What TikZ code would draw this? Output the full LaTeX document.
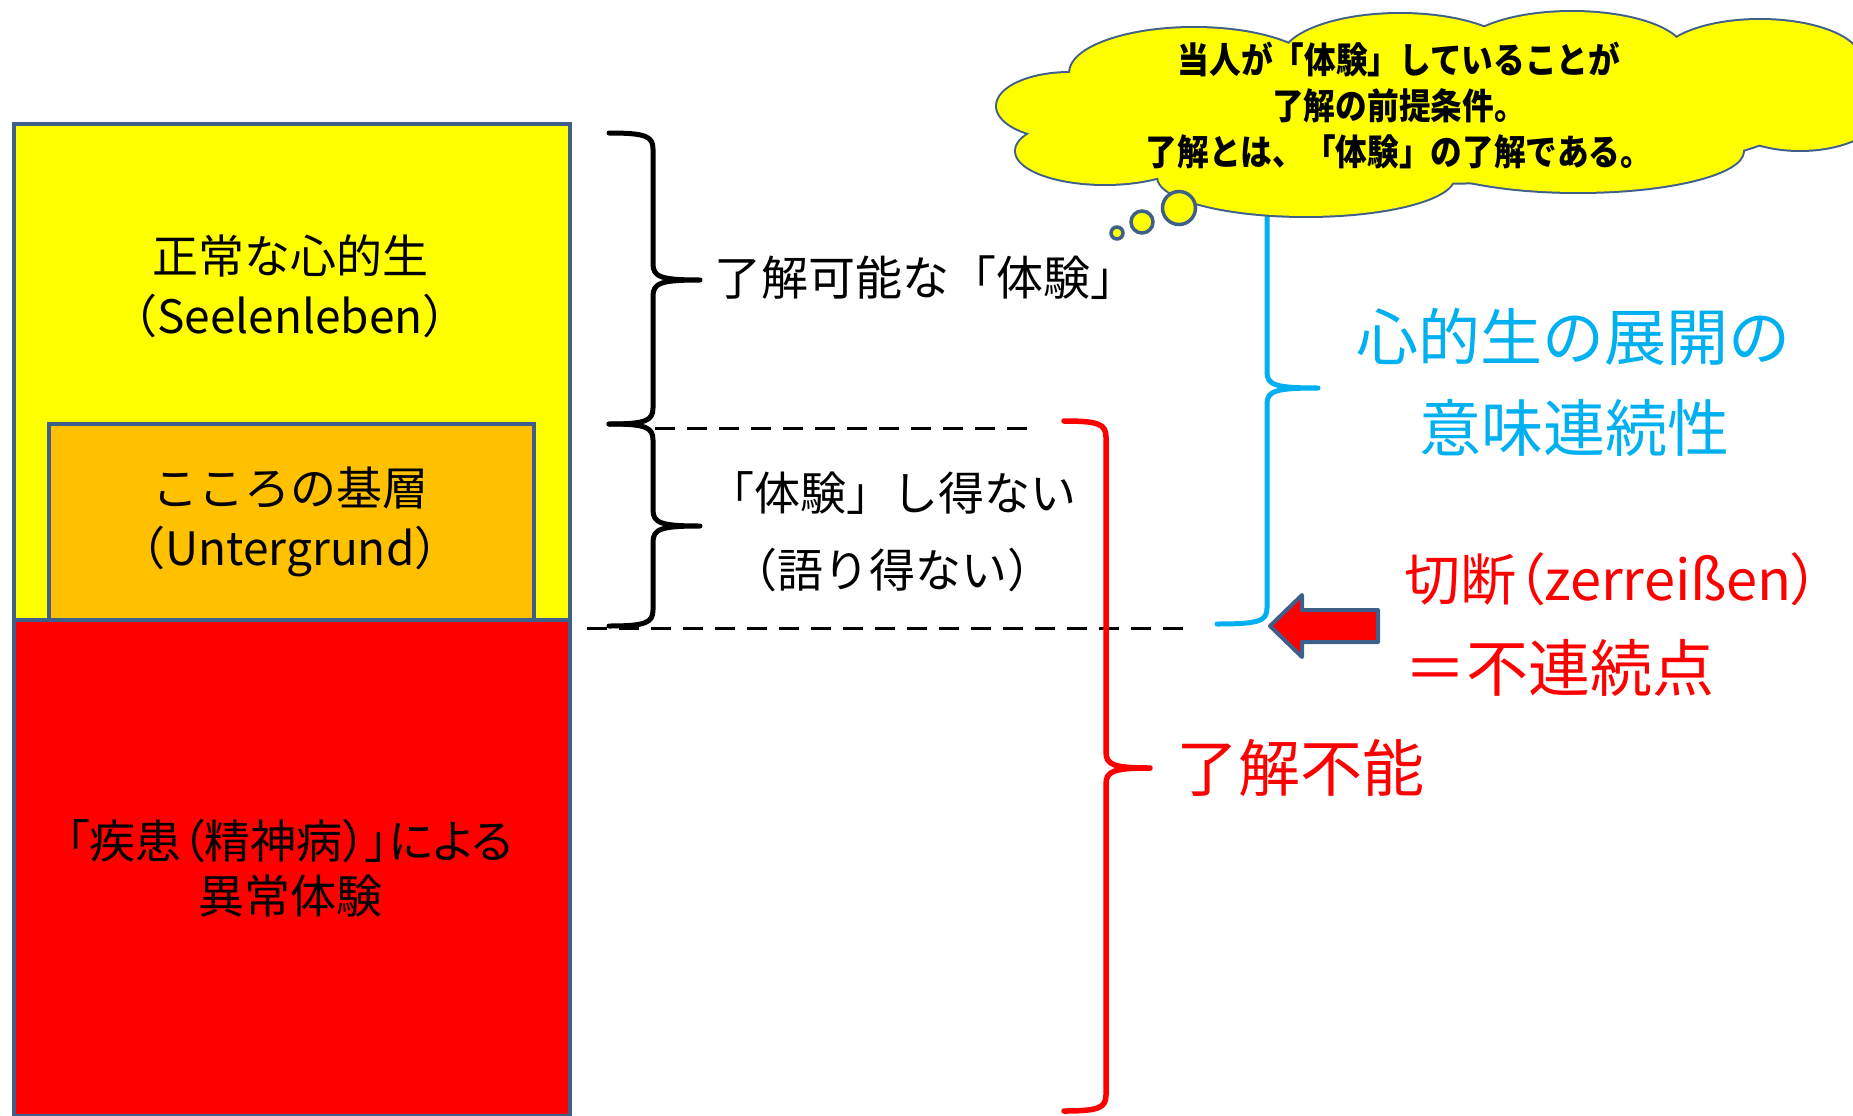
\documentclass[tikz,border=0pt]{standalone}
\usepackage{fontspec}
\setmainfont{Noto Sans CJK JP}
\newfontfamily\jpp{Noto Sans CJK JP}[RawFeature=+palt]
\newfontfamily\cloudfont{Noto Sans CJK JP}[FakeStretch=0.88]
\definecolor{bord}{HTML}{3E5F8A}
\definecolor{orng}{HTML}{FFC000}
\definecolor{cyn}{HTML}{00B0F0}
\definecolor{ylw}{HTML}{FFFF00}
\tikzset{
  boxr/.style={draw=bord, line width=4pt, inner sep=0pt, anchor=north west},
  lbl/.style={inner sep=0pt, align=center, font=\fontsize{46}{60}\selectfont},
  big/.style={inner sep=0pt, font=\fontsize{62}{76}\selectfont},
  bracepen/.style={line width=5pt, line cap=round, line join=round},
  dsh/.style={line width=3pt, dash pattern=on 20pt off 12pt},
  bubble/.style={circle, draw=bord, fill=ylw, line width=3.5pt, inner sep=0pt},
}
% right-opening brace: [style]{x0}{y0}{spine x}{tip y}{tip x}{y1}
\newcommand\RBrace[7][]{%
  \draw[bracepen,#1] (#2,#3) .. controls (#4-8,#3) and (#4,#3+3) .. (#4,#3+16)
    -- (#4,#5-16) .. controls (#4,#5-3) and (#4+8,#5) .. (#6,#5)
    .. controls (#4+8,#5) and (#4,#5+3) .. (#4,#5+16)
    -- (#4,#7-16) .. controls (#4,#7-3) and (#4-8,#7) .. (#2,#7);}
\newcommand\CloudLobes[1]{%
  \foreach \cx/\cy/\rx/\ry in {1070/106/73/33, 1105/151/89/33, 1306/177/148/39,
     1578/151/165/41, 1800/105/85/45, 1760/60/100/40, 1572/53/112/41,
     1400/59/118/45, 1194/73/124/45, 1420/113/380/70}
    {\path[#1] (\cx,\cy) ellipse [x radius=\rx, y radius=\ry];}}
\begin{document}
\begin{tikzpicture}[x=1pt,y=-1pt]
\path[use as bounding box] (0,0) rectangle (1853,1116);
\clip (0,0) rectangle (1853,1116);

% layered boxes
\node[boxr, fill=ylw, minimum width=556pt, minimum height=496pt] (upper) at (12,122) {};
\node[boxr, fill=orng, minimum width=485pt, minimum height=196pt] (base) at (47,422) {};
\node[boxr, fill=red, minimum width=556pt, minimum height=496pt] (lower) at (12,618) {};

\node[lbl] (t1) at (290,286) {正常な心的生\\（Seelenleben）};
\node[lbl] (t2) at (290,522) {こころの基層\\（Untergrund）};
\node[lbl, font=\jpp\fontsize{46}{55}\selectfont] (t3) at (290,868) {「疾患（精神病）」による\\異常体験};

% dashed separators
\coordinate (d1a) at (655,428); \coordinate (d1b) at (1035,428);
\coordinate (d2a) at (587,628); \coordinate (d2b) at (1192,628);
\draw[dsh] (d1a) -- (d1b);
\draw[dsh] (d2a) -- (d2b);

% braces
\RBrace{609}{133}{653}{280}{700}{424}
\RBrace{609}{424}{653}{526}{700}{626}
\RBrace[red, line width=5.5pt]{1064}{421}{1106}{768}{1150}{1111}
\RBrace[cyn]{1217}{150}{1267}{388}{1318}{624}

\node[lbl, font=\fontsize{47}{60}\selectfont] (u1) at (926,278) {了解可能な「体験」};
\node[lbl, font=\fontsize{46}{77}\selectfont] (u2) at (892,532) {「体験」し得ない\\（語り得ない）};

\node[big, text=red] (rf) at (1300,768) {了解不能};
\node[big, text=cyn] (m1) at (1573,337) {心的生の展開の};
\node[big, text=cyn] (m2) at (1574,428) {意味連続性};
\node[big, text=red, anchor=west, font=\jpp\fontsize{56}{76}\selectfont] (z1) at (1404,579) {切断（zerreißen）};
\node[big, text=red, anchor=west] (z2) at (1404,668) {＝不連続点};

% arrow
\draw[fill=red, draw=bord, line width=4pt, line join=round]
  (1270,626) -- (1302,595) -- (1302,610) -- (1378,610) -- (1378,642)
  -- (1302,642) -- (1302,657) -- cycle;

% thought cloud: outlined lobes, then filled again to hide inner outlines
\CloudLobes{draw=bord, line width=4pt, fill=ylw}
\CloudLobes{fill=ylw}
\coordinate (cld) at (1420,113);
\node[bubble, minimum size=33pt] (b1) at (1179,208) {};
\node[bubble, minimum size=22pt] (b2) at (1142,222) {};
\node[bubble, minimum size=12pt] (b3) at (1117,233) {};
\node[inner sep=0pt, align=center, font=\cloudfont\bfseries\fontsize{36}{46}\selectfont] (ct) at (1399,105)
  {当人が「体験」していることが\\了解の前提条件。\\了解とは、「体験」の了解である。};
\end{tikzpicture}
\end{document}
